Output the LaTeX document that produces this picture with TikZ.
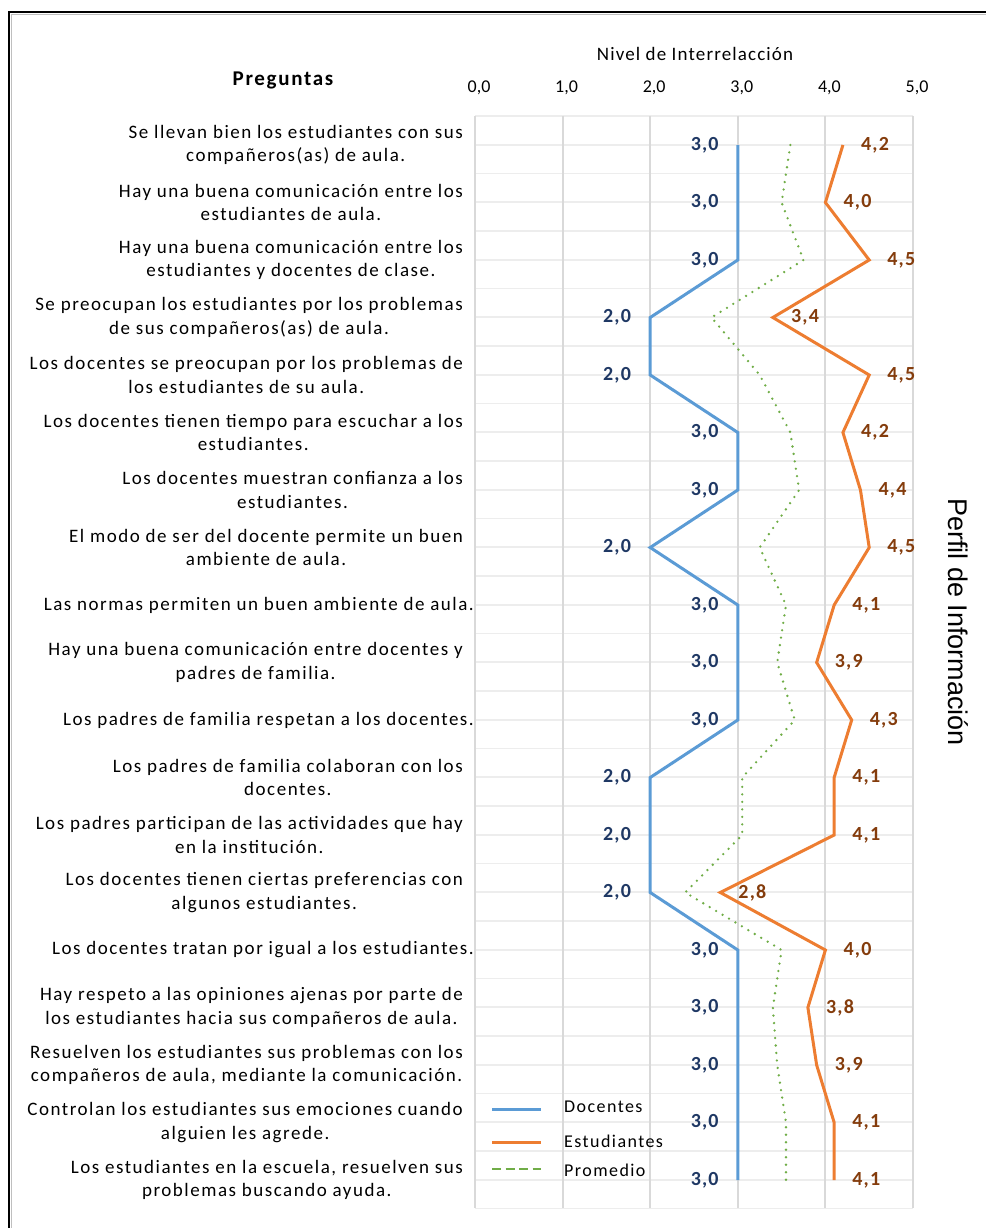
\documentclass[tikz,border=0pt]{standalone}
\usepackage{fontspec}
\setmainfont{Carlito}
\newfontfamily\espaciada{Carlito}[LetterSpace=8]
\newfontfamily\titulofont{Carlito}[LetterSpace=6]
\newfontfamily\perfilfont{Liberation Sans}
\definecolor{docazul}{HTML}{5B9BD5}
\definecolor{estnaranja}{HTML}{ED7D31}
\definecolor{promverde}{HTML}{70AD47}
\definecolor{etiqazul}{HTML}{1F3864}
\definecolor{etiqcafe}{HTML}{843C0C}
\definecolor{rejillav}{HTML}{D9D9D9}
\definecolor{rejillah}{HTML}{EDEDED}
\tikzset{
  pregunta/.style={anchor=east, align=center, inner sep=0pt, font=\espaciada\fontsize{19}{23.5}\selectfont},
  valdoc/.style={anchor=east, inner sep=0pt, text=etiqazul, font=\titulofont\fontsize{20}{20}\selectfont\bfseries, xshift=-19pt},
  valest/.style={anchor=west, inner sep=0pt, text=etiqcafe, font=\titulofont\fontsize{20}{20}\selectfont\bfseries, xshift=18pt},
  eje/.style={inner sep=0pt, font=\fontsize{18}{18}\selectfont},
  leyenda/.style={anchor=west, inner sep=0pt, font=\espaciada\fontsize{18}{18}\selectfont},
  lindoc/.style={docazul, line width=3pt},
  linest/.style={estnaranja, line width=3pt},
  linprom/.style={promverde, line width=2.6pt, line cap=round, dash pattern=on 0pt off 7.5pt},
}

\begin{document}
\begin{tikzpicture}[x=1pt, y=-1pt]
	\useasboundingbox (0,0) rectangle (985,1228);
	\draw[black!25, line width=1pt] (11.5,1240) -- (11.5,14.5) -- (1000,14.5);
	\draw[line width=2.4pt] (9,1240) -- (9,12) -- (1000,12); % marco
	% rejilla
	\foreach \k in {0,...,38}
		\draw[rejillah, line width=1.8pt] (475,{116+28.75*\k}) -- (913,{116+28.75*\k});
	\foreach \v in {0,...,5} {
		\draw[rejillav, line width=2pt] ({475+87.6*\v},116) -- ({475+87.6*\v},1208);
		\node[eje] (t\v) at ({479+87.6*\v},88) {\v,0};
	}
	\node[inner sep=0pt, font=\titulofont\fontsize{19}{19}\selectfont] (titulo) at (695,54) {Nivel de Interrelacción};
	\node[inner sep=0pt, font=\espaciada\fontsize{21}{21}\selectfont\bfseries] (preguntas) at (283,80) {Preguntas};
	\node[inner sep=0pt, rotate=-90, font=\perfilfont\fontsize{27}{27}\selectfont] (perfil) at (958,622) {Perfil de Información};
	% preguntas
	\foreach \xq/\q [count=\i] in {
		463/{Se llevan bien los estudiantes con sus\\compañeros(as) de aula.},
		463/{Hay una buena comunicación entre los\\estudiantes de aula.},
		463/{Hay una buena comunicación entre los\\estudiantes y docentes de clase.},
		463/{Se preocupan los estudiantes por los problemas\\de sus compañeros(as) de aula.},
		463/{Los docentes se preocupan por los problemas de\\los estudiantes de su aula.},
		463/{Los docentes tienen tiempo para escuchar a los\\estudiantes.},
		463/{Los docentes muestran confianza a los\\estudiantes.},
		463/{El modo de ser del docente permite un buen\\ambiente de aula.},
		474/{Las normas permiten un buen ambiente de aula.},
		463/{Hay una buena comunicación entre docentes y\\padres de familia.},
		474/{Los padres de familia respetan a los docentes.},
		463/{Los padres de familia colaboran con los\\docentes.},
		463/{Los padres participan de las actividades que hay\\en la institución.},
		463/{Los docentes tienen ciertas preferencias con\\algunos estudiantes.},
		474/{Los docentes tratan por igual a los estudiantes.},
		463/{Hay respeto a las opiniones ajenas por parte de\\los estudiantes hacia sus compañeros de aula.},
		463/{Resuelven los estudiantes sus problemas con los\\compañeros de aula, mediante la comunicación.},
		463/{Controlan los estudiantes sus emociones cuando\\alguien les agrede.},
		463/{Los estudiantes en la escuela, resuelven sus\\problemas buscando ayuda.}}
		\node[pregunta] (q\i) at (\xq,{145+57.5*(\i-1)}) {\q};
	% datos (entero/decimal)
	\foreach \a/\b [count=\i] in {3/0,3/0,3/0,2/0,2/0,3/0,3/0,2/0,3/0,3/0,3/0,2/0,2/0,2/0,3/0,3/0,3/0,3/0,3/0} {
		\coordinate (d\i) at ({475+87.6*\a.\b},{145+57.5*(\i-1)});
		\node[valdoc] (vd\i) at (d\i) {\a,\b};
	}
	\foreach \a/\b [count=\i] in {4/2,4/0,4/5,3/4,4/5,4/2,4/4,4/5,4/1,3/9,4/3,4/1,4/1,2/8,4/0,3/8,3/9,4/1,4/1} {
		\coordinate (e\i) at ({475+87.6*\a.\b},{145+57.5*(\i-1)});
		\node[valest] (ve\i) at (e\i) {\a,\b};
	}
	\foreach \p [count=\i] in {3.6,3.5,3.75,2.7,3.25,3.6,3.7,3.25,3.55,3.45,3.65,3.05,3.05,2.4,3.5,3.4,3.45,3.55,3.55}
		\coordinate (p\i) at ({475+87.6*\p},{145+57.5*(\i-1)});
	\draw[linprom] (p1) \foreach \i in {2,...,19} {-- (p\i)};
	\draw[lindoc] (d1) \foreach \i in {2,...,19} {-- (d\i)};
	\draw[linest] (e1) \foreach \i in {2,...,19} {-- (e\i)};
	% leyenda
	\coordinate (ld1) at (492,1109); \coordinate (ld2) at (541,1109);
	\coordinate (le1) at (492,1142); \coordinate (le2) at (541,1142);
	\coordinate (lp1) at (492,1169); \coordinate (lp2) at (541,1169);
	\draw[lindoc] (ld1) -- (ld2);
	\draw[linest] (le1) -- (le2);
	\draw[promverde, line width=2.6pt, dash pattern=on 9pt off 4.5pt] (lp1) -- (lp2);
	\node[leyenda] (ndoc) at (564,1107) {Docentes};
	\node[leyenda] (nest) at (564,1141) {Estudiantes};
	\node[leyenda] (nprom) at (564,1170) {Promedio};
\end{tikzpicture}
\end{document}
